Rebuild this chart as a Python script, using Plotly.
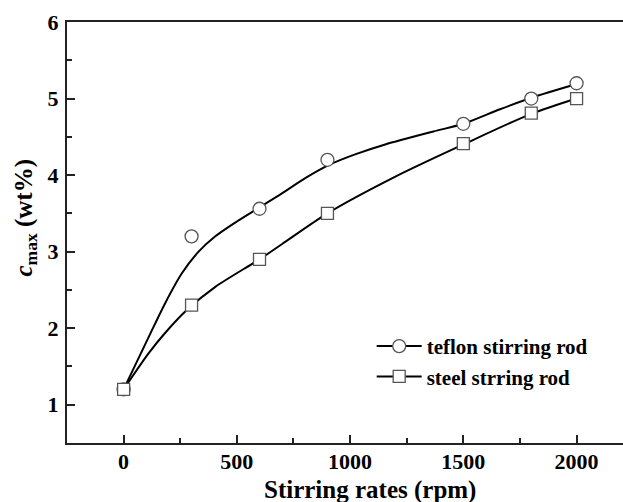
import plotly.graph_objects as go

# measured points
rate = [0, 300, 600, 900, 1500, 1800, 2000]
teflon = [1.2, 3.2, 3.56, 4.2, 4.67, 5.0, 5.2]
steel = [1.2, 2.3, 2.9, 3.5, 4.41, 4.81, 5.0]

# fitted curves
teflon_fit_x = [0, 110, 184, 258, 331, 405, 493, 596, 699, 802, 905, 1022, 1155, 1368, 1500, 1662, 1800, 2000]
teflon_fit_y = [1.2, 1.88, 2.33, 2.72, 3.0, 3.20, 3.38, 3.57, 3.76, 3.96, 4.13, 4.27, 4.40, 4.57, 4.67, 4.86, 5.01, 5.19]
steel_fit_x = [0, 110, 184, 280, 405, 600, 700, 900, 1200, 1500, 1800, 2000]
steel_fit_y = [1.2, 1.67, 1.94, 2.24, 2.54, 2.9, 3.1, 3.5, 3.98, 4.4, 4.8, 5.0]

x_ticks = [0, 500, 1000, 1500, 2000]
y_ticks = [1, 2, 3, 4, 5, 6]

FONT = "Liberation Serif"
mk_line = dict(color="#555555", width=1.3)

fig = go.Figure()
fig.add_trace(go.Scatter(x=teflon_fit_x, y=teflon_fit_y, mode="lines", line=dict(color="black", width=2, shape="spline", smoothing=0.8), showlegend=False))
fig.add_trace(go.Scatter(x=steel_fit_x, y=steel_fit_y, mode="lines", line=dict(color="black", width=2, shape="spline", smoothing=0.8), showlegend=False))
fig.add_trace(go.Scatter(x=rate, y=teflon, mode="markers", marker=dict(symbol="circle", size=13, color="white", line=mk_line), showlegend=False))
fig.add_trace(go.Scatter(x=rate, y=steel, mode="markers", marker=dict(symbol="square", size=12, color="white", line=mk_line), showlegend=False))
# legend entries
fig.add_trace(go.Scatter(x=[None], y=[None], mode="lines+markers", name="teflon stirring rod",
                         line=dict(color="black", width=2), marker=dict(symbol="circle", size=13, color="white", line=mk_line)))
fig.add_trace(go.Scatter(x=[None], y=[None], mode="lines+markers", name="steel strring rod",
                         line=dict(color="black", width=2), marker=dict(symbol="square", size=12, color="white", line=mk_line)))

axis_common = dict(showgrid=False, zeroline=False, showline=True, linecolor="#222222", linewidth=2,
                   ticks="inside", ticklen=8, tickwidth=1.5, tickcolor="#222222", automargin=False,
                   tickfont=dict(family=FONT, size=22, color="black", weight="bold"))

fig.update_xaxes(range=[-250, 2205], tickvals=x_ticks, mirror=True, ticklabelstandoff=-2,
                 minor=dict(ticks="inside", ticklen=5, tickwidth=1.5, tickcolor="#222222", dtick=250, tick0=0),
                 **axis_common)
fig.update_yaxes(range=[0.5, 6], tickvals=y_ticks, ticklabelstandoff=2, mirror=False,
                 minor=dict(ticks="inside", ticklen=5, tickwidth=1.5, tickcolor="#222222", dtick=0.5, tick0=0.5),
                 **axis_common)

fig.add_annotation(text="Stirring rates (rpm)", xref="paper", yref="paper", x=0.545, y=-0.112,
                   showarrow=False, xanchor="center", yanchor="middle",
                   font=dict(family=FONT, size=25, color="black", weight="bold"))
fig.add_annotation(text="<i>c</i><sub>max</sub> (wt%)", xref="paper", yref="paper", x=-0.075, y=0.534,
                   showarrow=False, textangle=-90, xanchor="center", yanchor="middle",
                   font=dict(family=FONT, size=25, color="black", weight="bold"))

fig.update_layout(
    width=623, height=502,
    margin=dict(l=67, r=0, t=22, b=59),
    paper_bgcolor="white", plot_bgcolor="white",
    legend=dict(x=0.548, y=0.278, xanchor="left", yanchor="top", bgcolor="rgba(0,0,0,0)", itemwidth=45,
                font=dict(family=FONT, size=21, color="black", weight="bold"), tracegroupgap=0),
)

fig.write_html("out.html", config={"displayModeBar": False},
               post_script="document.body.style.margin='0';document.body.style.padding='0';document.body.style.overflow='hidden';")
